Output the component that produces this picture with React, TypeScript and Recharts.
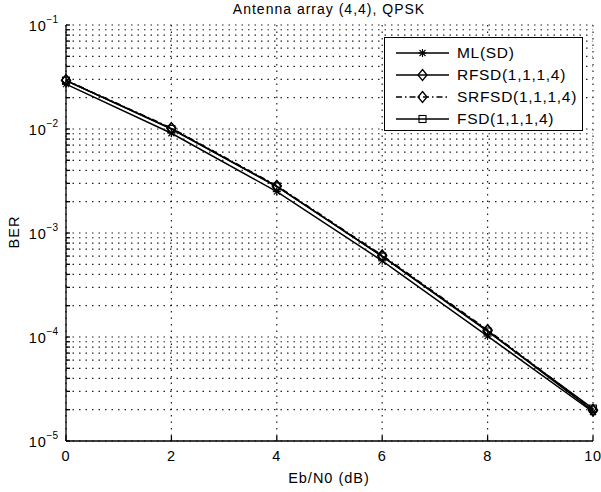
import React from "react";
import { LineChart, Line, XAxis, YAxis, CartesianGrid, Legend } from "recharts";

// Eb/N0 points (dB)
const snrDb = [0, 2, 4, 6, 8, 10];

// BER per detector
const berML = [2.7e-2, 9.1e-3, 2.5e-3, 5.4e-4, 1.02e-4, 1.9e-5];
const berRFSD = [2.93e-2, 1.01e-2, 2.8e-3, 6.0e-4, 1.15e-4, 1.95e-5];
const berSRFSD = [2.95e-2, 1.02e-2, 2.85e-3, 6.1e-4, 1.17e-4, 2.0e-5];
const berFSD = [2.92e-2, 1.0e-2, 2.8e-3, 5.95e-4, 1.13e-4, 2.05e-5];

const seriesNames = ["ML(SD)", "RFSD(1,1,1,4)", "SRFSD(1,1,1,4)", "FSD(1,1,1,4)"];

const xTicks = [0, 2, 4, 6, 8, 10];
const decadeExps = [-5, -4, -3, -2];
const minorMantissas = [1, 2, 3, 4, 5, 6, 7, 8, 9];

const yTicks = [
  ...decadeExps.flatMap((e) => minorMantissas.map((m) => m * Math.pow(10, e))),
  1e-1,
];

const data = snrDb.map((x, i) => ({
  x,
  ml: berML[i],
  rfsd: berRFSD[i],
  srfsd: berSRFSD[i],
  fsd: berFSD[i],
}));

const FONT = "'Liberation Sans', Arial, Helvetica, sans-serif";
const DASHDOT = "6 3 1.5 3";
const LW = 1.5;

// markers
const Star = ({ cx, cy }: { cx: number; cy: number }) => (
  <g stroke="#000" strokeWidth={1.1}>
    <line x1={cx - 4} y1={cy} x2={cx + 4} y2={cy} />
    <line x1={cx} y1={cy - 4} x2={cx} y2={cy + 4} />
    <line x1={cx - 3} y1={cy - 3} x2={cx + 3} y2={cy + 3} />
    <line x1={cx - 3} y1={cy + 3} x2={cx + 3} y2={cy - 3} />
  </g>
);

const Diamond = ({ cx, cy }: { cx: number; cy: number }) => (
  <polygon
    points={`${cx},${cy - 5.5} ${cx + 4.5},${cy} ${cx},${cy + 5.5} ${cx - 4.5},${cy}`}
    fill="none"
    stroke="#000"
    strokeWidth={1.3}
  />
);

const Square = ({ cx, cy }: { cx: number; cy: number }) => (
  <rect x={cx - 3.5} y={cy - 3.5} width={7} height={7} fill="none" stroke="#000" strokeWidth={1.1} />
);

const markerOf = (name: string) => {
  if (name === "ML(SD)") return Star;
  if (name === "FSD(1,1,1,4)") return Square;
  return Diamond;
};

const dotRenderer = (Shape: any) => (props: any) =>
  <Shape key={`d-${props.index}`} cx={props.cx} cy={props.cy} />;

const YTick = (props: any) => {
  const { x, y, payload } = props;
  const v = payload.value as number;
  const e = Math.round(Math.log10(v));
  if (Math.abs(Math.log10(v) - e) > 1e-6) return <g />;
  return (
    <text x={x} y={y} textAnchor="end" fontFamily={FONT} fill="#000">
      <tspan fontSize={14.5} dy={6} letterSpacing={0.8}>10</tspan>
      <tspan fontSize={10} dy={-8}>{"\u2212" + -e}</tspan>
    </text>
  );
};

const XTick = (props: any) => {
  const { x, y, payload } = props;
  return (
    <text x={x} y={y} dy={10} textAnchor="middle" fontFamily={FONT} fontSize={14.5} fill="#000" letterSpacing={0.8}>
      {payload.value}
    </text>
  );
};

const legendRows = [
  { name: seriesNames[0], dash: undefined },
  { name: seriesNames[1], dash: undefined },
  { name: seriesNames[2], dash: DASHDOT },
  { name: seriesNames[3], dash: undefined },
];

const renderLegend = () => (
  <div
    style={{
      width: 199,
      height: 94,
      boxSizing: "border-box",
      border: "1.3px solid #000",
      background: "#fff",
      paddingTop: 4,
      fontFamily: FONT,
      fontSize: 15.5,
      letterSpacing: 0.7,
      color: "#000",
    }}
  >
    {legendRows.map((r) => {
      const M = markerOf(r.name);
      return (
        <div key={r.name} style={{ height: 22, display: "flex", alignItems: "center" }}>
          <svg width={72} height={22} style={{ flex: "none" }}>
            <line x1={11} y1={11} x2={64} y2={11} stroke="#000" strokeWidth={LW} strokeDasharray={r.dash} />
            <M cx={37.5} cy={11} />
          </svg>
          <span style={{ lineHeight: "22px" }}>{r.name}</span>
        </div>
      );
    })}
  </div>
);

export default function App() {
  return (
    <div style={{ position: "absolute", left: 0, top: 0, width: 601, height: 492, background: "#fff" }}>
      <LineChart
        width={601}
        height={492}
        data={data}
        margin={{ top: 25, right: 8, left: 26, bottom: 21 }}
      >
        <CartesianGrid stroke="#222" strokeDasharray="1.5 5" strokeWidth={1.2} />
        <XAxis
          dataKey="x"
          type="number"
          domain={[0, 10]}
          ticks={xTicks}
          height={30}
          stroke="#000"
          strokeWidth={1.3}
          tickSize={-5}
          tickMargin={15}
          tick={<XTick />}
          interval={0}
        />
        <XAxis
          xAxisId="top"
          dataKey="x"
          type="number"
          orientation="top"
          domain={[0, 10]}
          ticks={xTicks}
          height={0}
          stroke="#000"
          strokeWidth={1.3}
          tickSize={-5}
          tick={false}
        />
        <YAxis
          scale="log"
          type="number"
          domain={[1e-5, 1e-1]}
          allowDataOverflow
          ticks={yTicks}
          width={40}
          stroke="#000"
          strokeWidth={1.3}
          tickSize={-4}
          tickMargin={12}
          tick={<YTick />}
          interval={0}
        />
        <YAxis
          yAxisId="right"
          orientation="right"
          scale="log"
          type="number"
          domain={[1e-5, 1e-1]}
          allowDataOverflow
          ticks={yTicks}
          width={0}
          stroke="#000"
          strokeWidth={1.3}
          tickSize={-4}
          tick={false}
          interval={0}
        />
        <Legend
          layout="vertical"
          align="center"
          verticalAlign="middle"
          content={renderLegend}
          wrapperStyle={{ left: 384, top: 37, width: 199, height: 94 }}
        />
        <Line dataKey="ml" name={seriesNames[0]} stroke="#000" strokeWidth={LW} dot={dotRenderer(Star)} isAnimationActive={false} />
        <Line dataKey="rfsd" name={seriesNames[1]} stroke="#000" strokeWidth={LW} dot={dotRenderer(Diamond)} isAnimationActive={false} />
        <Line dataKey="srfsd" name={seriesNames[2]} stroke="#000" strokeWidth={LW} strokeDasharray={DASHDOT} dot={dotRenderer(Diamond)} isAnimationActive={false} />
        <Line dataKey="fsd" name={seriesNames[3]} stroke="#000" strokeWidth={LW} dot={dotRenderer(Square)} isAnimationActive={false} />
      </LineChart>
      <svg
        width={601}
        height={492}
        style={{ position: "absolute", left: 0, top: 0, pointerEvents: "none" }}
      >
        <text x={329} y={13.5} textAnchor="middle" fontFamily={FONT} fontSize={14} letterSpacing={1}>
          Antenna array (4,4), QPSK
        </text>
        <text x={329} y={483} textAnchor="middle" fontFamily={FONT} fontSize={14.5} letterSpacing={1}>
          Eb/N0 (dB)
        </text>
        <text
          x={19}
          y={232}
          textAnchor="middle"
          fontFamily={FONT}
          fontSize={14.5}
          letterSpacing={1}
          transform="rotate(-90 19 232)"
        >
          BER
        </text>
      </svg>
    </div>
  );
}
